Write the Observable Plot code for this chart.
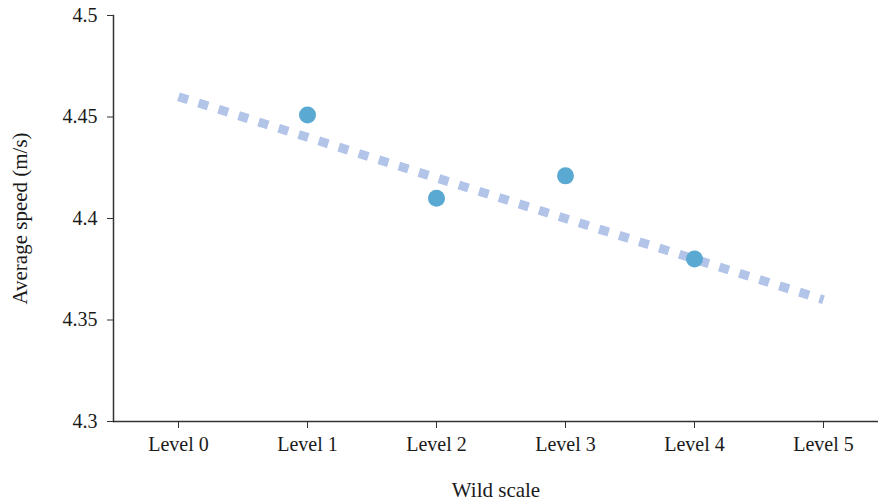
<!DOCTYPE html>
<html>
<head>
<meta charset="utf-8">
<script src="https://cdn.jsdelivr.net/npm/d3@7"></script>
<script src="https://cdn.jsdelivr.net/npm/@observablehq/plot@0.6"></script>
<style>
  html, body { margin: 0; padding: 0; background: #fff; }
  #chart svg { display: block; }
</style>
</head>
<body>
<div id="chart"></div>
<script>
// Wild-scale categories on the x axis
const levels = ["Level 0", "Level 1", "Level 2", "Level 3", "Level 4", "Level 5"];

// Measured average speed per level (m/s)
const observedLevels = ["Level 1", "Level 2", "Level 3", "Level 4"];
const observedSpeed = [4.451, 4.41, 4.421, 4.38];

// Linear trend across the whole scale
const trendLevels = ["Level 0", "Level 5"];
const trendSpeed = [4.46, 4.36];

// Y tick values
const yTicks = [4.3, 4.35, 4.4, 4.45, 4.5];

const observed = observedLevels.map((level, i) => ({level, speed: observedSpeed[i]}));
const trend = trendLevels.map((level, i) => ({level, speed: trendSpeed[i]}));

const font = "'Liberation Serif', serif";
const tickSize = 20;
const titleSize = 21;

const chart = Plot.plot({
  width: 878,
  height: 504,
  marginLeft: 113,
  marginRight: 0,
  marginTop: 15,
  marginBottom: 83,
  style: {fontFamily: font, fontSize: `${tickSize}px`, color: "#1a1a1a", background: "#fff"},
  x: {type: "point", domain: levels, range: [178, 823], padding: 0},
  y: {domain: [4.3, 4.5], range: [421, 15]},
  marks: [
    Plot.frame({anchor: "left", stroke: "#333", strokeWidth: 1.5}),
    Plot.ruleY([4.3], {stroke: "#333", strokeWidth: 1.5}),
    Plot.axisY({
      ticks: yTicks,
      tickFormat: d => String(d),
      tickSize: 6,
      tickPadding: 10,
      stroke: "#333",
      fontSize: tickSize,
      label: null
    }),
    Plot.axisY({
      ticks: [],
      fontSize: titleSize,
      label: "Average speed (m/s)",
      labelAnchor: "center",
      labelArrow: "none",
      labelOffset: 101
    }),
    Plot.axisX({
      tickSize: 7,
      tickPadding: 8,
      stroke: "#333",
      fontSize: tickSize,
      label: null
    }),
    Plot.axisX({
      ticks: [],
      fontSize: titleSize,
      label: "Wild scale",
      labelAnchor: "center",
      labelArrow: "none",
      labelOffset: 75
    }),
    Plot.line(trend, {
      x: "level",
      y: "speed",
      stroke: "#b3c4e9",
      strokeWidth: 9,
      strokeDasharray: "10,11",
      strokeLinecap: "butt"
    }),
    Plot.dot(observed, {
      x: "level",
      y: "speed",
      r: 8.5,
      fill: "#59a9d3",
      stroke: "none"
    })
  ]
});

document.getElementById("chart").appendChild(chart);
</script>
</body>
</html>
